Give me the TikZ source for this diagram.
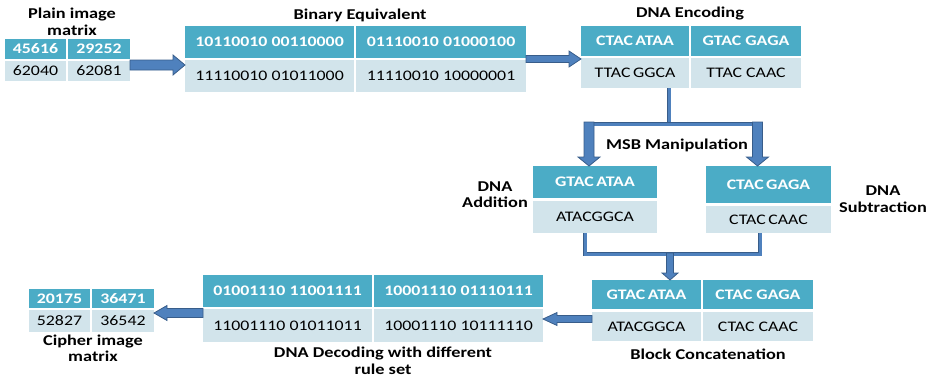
\documentclass[tikz,border=0pt]{standalone}
\usepackage{fontspec}
\setmainfont{Carlito}[FakeStretch=1.22]
\usetikzlibrary{calc}
\definecolor{hdr}{HTML}{4BACC6}
\definecolor{rowc}{HTML}{D2E4EB}
\definecolor{arrfill}{HTML}{4F81BD}
\definecolor{arredge}{HTML}{385D8A}

\tikzset{
  cell/.style={inner sep=0pt, outer sep=0pt, font=\fontsize{14.6}{16}\selectfont},
  hcell/.style={cell, fill=hdr, text=white, font=\fontsize{14.6}{16}\selectfont\bfseries},
  rcell/.style={cell, fill=rowc, text=black},
  title/.style={font=\fontsize{15}{16.5}\selectfont\bfseries, align=center, inner sep=0pt},
  barrow/.style={fill=arrfill, draw=arredge, line width=0.8pt, line join=miter},
  bar/.style={draw=arredge, double=arrfill, double distance=3pt, line width=0.9pt}
}

% narrow gap between the two codon groups of a DNA string
\newcommand\gp{\kern2.5pt}

% table cell given by its corners: [style]{name}{x1}{y1}{x2}{y2}{text}
\newcommand\tcell[7][hcell]{%
  \node[#1, minimum width=#5pt-#3pt, minimum height=#6pt-#4pt]
    (#2) at ({(#3+#5)/2},{(#4+#6)/2}) {#7};}

% horizontal block arrow: start, end, shaft half width, head half width, head length
\newcommand\harrow[5]{%
  \filldraw[barrow] let \p1=#1, \p2=#2, \n1={sign(\x2-\x1)} in
    (\x1,{\y1-#3pt}) -- ({\x2-\n1*#5pt},{\y1-#3pt}) -- ({\x2-\n1*#5pt},{\y1-#4pt})
    -- (\x2,\y1) -- ({\x2-\n1*#5pt},{\y1+#4pt}) -- ({\x2-\n1*#5pt},{\y1+#3pt})
    -- (\x1,{\y1+#3pt}) -- cycle;}

% vertical block arrow: start, end, shaft half width, head half width, head length
\newcommand\varrow[5]{%
  \filldraw[barrow] let \p1=#1, \p2=#2, \n1={sign(\y2-\y1)} in
    ({\x1-#3pt},\y1) -- ({\x1-#3pt},{\y2-\n1*#5pt}) -- ({\x1-#4pt},{\y2-\n1*#5pt})
    -- (\x1,\y2) -- ({\x1+#4pt},{\y2-\n1*#5pt}) -- ({\x1+#3pt},{\y2-\n1*#5pt})
    -- ({\x1+#3pt},\y1) -- cycle;}

\begin{document}
\begin{tikzpicture}[x=1pt, y=-1pt]
\useasboundingbox (0,0) rectangle (932,380);

% plain image matrix
\tcell{p11}{5}{39}{66}{59}{45616}
\tcell{p12}{68}{39}{130}{59}{29252}
\tcell[rcell]{p21}{5}{61}{66}{81}{62040}
\tcell[rcell]{p22}{68}{61}{130}{81}{62081}
\node[title] (ptitle) at (72,22) {Plain image\\matrix};

% binary equivalent
\tcell{b11}{185}{26}{354}{58}{10110010 00110000}
\tcell{b12}{356}{26}{526}{58}{01110010 01000100}
\tcell[rcell]{b21}{185}{60}{354}{92}{11110010 01011000}
\tcell[rcell]{b22}{356}{60}{526}{92}{11110010 10000001}
\node[title] (btitle) at (360,15) {Binary Equivalent};

% DNA encoding
\tcell{e11}{581}{26}{689}{56}{CTAC\gp ATAA}
\tcell{e12}{691}{26}{801}{56}{GTAC GAGA}
\tcell[rcell]{e21}{581}{58}{689}{88}{TTAC\gp GGCA}
\tcell[rcell]{e22}{691}{58}{801}{88}{TTAC CAAC}
\node[title] (etitle) at (690,14) {DNA Encoding};

% DNA addition / subtraction
\tcell{a1}{533}{166}{657}{198}{GTAC\gp ATAA}
\tcell[rcell]{a2}{533}{201}{657}{233}{ATACGGCA}
\tcell{s1}{706}{166}{831}{203}{CTAC\gp GAGA}
\tcell[rcell]{s2}{706}{206}{831}{233}{CTAC\gp CAAC}
\node[title] (atitle) at (495,194.5) {DNA\\Addition};
\node[title] (stitle) at (883,199) {DNA\\Subtraction};
\node[title] (mtitle) at (677,145) {MSB Manipulation};

% block concatenation
\tcell{c11}{592}{280}{701}{309}{GTAC\gp ATAA}
\tcell{c12}{703}{280}{813}{309}{CTAC GAGA}
\tcell[rcell]{c21}{592}{312}{701}{341}{ATACGGCA}
\tcell[rcell]{c22}{703}{312}{813}{341}{CTAC CAAC}
\node[title] (ctitle) at (708,354) {Block Concatenation};

% DNA decoding
\tcell{d11}{203}{275}{372}{307}{01001110 11001111}
\tcell{d12}{374}{275}{543}{307}{10001110 01110111}
\tcell[rcell]{d21}{203}{309}{372}{342}{11001110 01011011}
\tcell[rcell]{d22}{374}{309}{543}{342}{10001110 10111110}
\node[title] (dtitle) at (383,361) {DNA Decoding with different\\rule set};

% cipher image matrix
\tcell{x11}{29}{289}{90}{308}{20175}
\tcell{x12}{92}{289}{154}{308}{36471}
\tcell[rcell]{x21}{29}{310}{90}{332}{52827}
\tcell[rcell]{x22}{92}{310}{154}{332}{36542}
\node[title] (xtitle) at (93,348.5) {Cipher image\\matrix};

% horizontal flow along the top
\harrow{($(p22.north east)+(0,4)$)}{(b21.west)}{5}{10}{12}
\harrow{($(b12.south east)+(0,1)$)}{(e21.west)}{3.5}{8}{12}

% split into addition and subtraction
\coordinate (encdrop) at ($(e21.south east)+(-20,0)$);
\coordinate (msbbar) at ($(encdrop)+(0,36)$);
\coordinate (addtop) at ($(a1.north)+(-6,0)$);
\coordinate (subtop) at ($(s1.north)+(-11,0)$);
\draw[bar] (encdrop) -- (msbbar);
\draw[bar] ($(addtop |- msbbar)+(-5,0)$) -- ($(subtop |- msbbar)+(5,0)$);
\varrow{($(addtop |- msbbar)+(0,-2)$)}{(addtop)}{5}{11}{9}
\varrow{($(subtop |- msbbar)+(0,-2)$)}{(subtop)}{5}{11}{9}

% merge into concatenation
\coordinate (addbot) at ($(a2.south)+(-10,0)$);
\coordinate (subbot) at ($(s2.south)+(-8.5,0)$);
\coordinate (joinbar) at ($(addbot)+(0,21)$);
\coordinate (cattop) at ($(c11.north east)+(-31,0)$);
\draw[bar] (addbot) -- (addbot |- joinbar) -- (subbot |- joinbar) -- (subbot);
\varrow{($(cattop |- joinbar)+(0,-1)$)}{(cattop)}{3.5}{8}{7}

% horizontal flow along the bottom
\harrow{($(c21.north west)+(0,7)$)}{(d22.east)}{3.5}{6.5}{14}
\harrow{($(d21.north west)+(0,4)$)}{(x22.east)}{4.5}{7.5}{13}
\end{tikzpicture}
\end{document}
